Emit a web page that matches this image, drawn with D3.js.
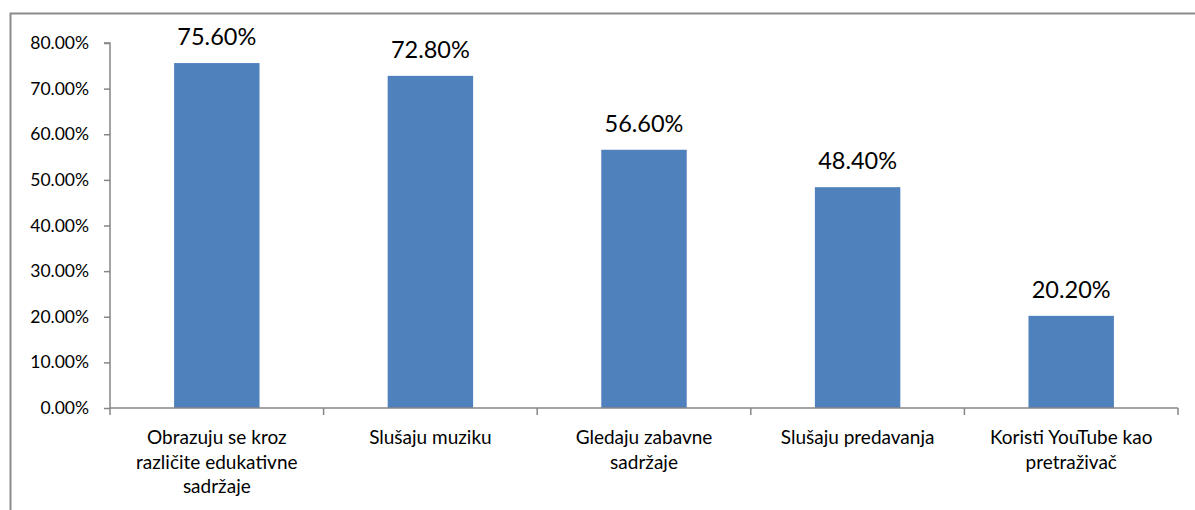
<!DOCTYPE html>
<html>
<head>
<meta charset="utf-8">
<script src="https://cdn.jsdelivr.net/npm/d3@7/dist/d3.min.js"></script>
<style>
  html, body { margin: 0; padding: 0; background: #fff; }
  svg { display: block; font-family: Lato, "Open Sans", "Liberation Sans", sans-serif; }
</style>
</head>
<body>
<svg id="chart" width="1195" height="510"></svg>
<script>
// Categories (each label split into its wrapped lines)
const categories = [
  ["Obrazuju se kroz", "različite edukativne", "sadržaje"],
  ["Slušaju muziku"],
  ["Gledaju zabavne", "sadržaje"],
  ["Slušaju predavanja"],
  ["Koristi YouTube kao", "pretraživač"]
];
// Share of respondents, in percent
const values = [75.6, 72.8, 56.6, 48.4, 20.2];
// Y axis ticks
const yTicks = [0, 10, 20, 30, 40, 50, 60, 70, 80];

const W = 1195, H = 510;
const margin = { left: 110, right: 17, top: 43, bottom: 102 };
const svg = d3.select("#chart");

// Outer chart frame (top and left edges visible)
svg.append("path")
  .attr("d", `M10.5,${H} L10.5,13.5 L${W},13.5`)
  .attr("fill", "none")
  .attr("stroke", "#8c8c8c")
  .attr("stroke-width", 2);

const x = d3.scaleBand()
  .domain(d3.range(categories.length))
  .range([margin.left, W - margin.right])
  .paddingInner(0.6)
  .paddingOuter(0.3);

const y = d3.scaleLinear()
  .domain([0, 80])
  .range([H - margin.bottom, margin.top]);

const axisColor = "#868686";

// Bars
svg.append("g").selectAll("rect")
  .data(values)
  .join("rect")
  .attr("x", (d, i) => x(i))
  .attr("width", x.bandwidth())
  .attr("y", d => y(d))
  .attr("height", d => y(0) - y(d))
  .attr("fill", "#4f81bd");

// Y axis
const yAxis = svg.append("g")
  .attr("transform", `translate(${margin.left},0)`)
  .call(d3.axisLeft(y).tickValues(yTicks).tickSize(6).tickPadding(15)
    .tickFormat(d => d.toFixed(2) + "%"));
yAxis.attr("font-size", null).attr("font-family", null);
yAxis.select(".domain").attr("stroke", axisColor).attr("stroke-width", 1.5)
  .attr("d", `M-6,${y(80)}H0V${y(0)}`);
yAxis.selectAll(".tick line").attr("stroke", axisColor).attr("stroke-width", 1.5);
yAxis.selectAll(".tick text").attr("fill", "#000").style("font-size", "17.5px");

// X axis: ticks at the category boundaries
const x0 = margin.left, x1 = W - margin.right;
const xAxisG = svg.append("g");
xAxisG.append("line")
  .attr("x1", x0).attr("x2", x1)
  .attr("y1", y(0)).attr("y2", y(0))
  .attr("stroke", axisColor).attr("stroke-width", 1.5);
xAxisG.selectAll("line.tick")
  .data(d3.range(categories.length + 1))
  .join("line")
  .attr("class", "tick")
  .attr("x1", i => x0 + i * (x1 - x0) / categories.length)
  .attr("x2", i => x0 + i * (x1 - x0) / categories.length)
  .attr("y1", y(0)).attr("y2", y(0) + 7)
  .attr("stroke", axisColor).attr("stroke-width", 1.5);

// Category labels
const catG = svg.append("g").selectAll("text")
  .data(categories)
  .join("text")
  .attr("text-anchor", "middle")
  .attr("fill", "#000")
  .style("font-size", "19px")
  .attr("transform", (d, i) => `translate(${x(i) + x.bandwidth() / 2},${y(0) + 36})`);
catG.selectAll("tspan")
  .data(d => d)
  .join("tspan")
  .attr("x", 0)
  .attr("dy", (d, j) => j === 0 ? 0 : 24.5)
  .text(d => d);

// Value labels above bars
svg.append("g").selectAll("text")
  .data(values)
  .join("text")
  .attr("x", (d, i) => x(i) + x.bandwidth() / 2)
  .attr("y", d => y(d) - 18)
  .attr("text-anchor", "middle")
  .attr("fill", "#000")
  .style("font-size", "23.5px")
  .text(d => d.toFixed(2) + "%");
</script>
</body>
</html>
